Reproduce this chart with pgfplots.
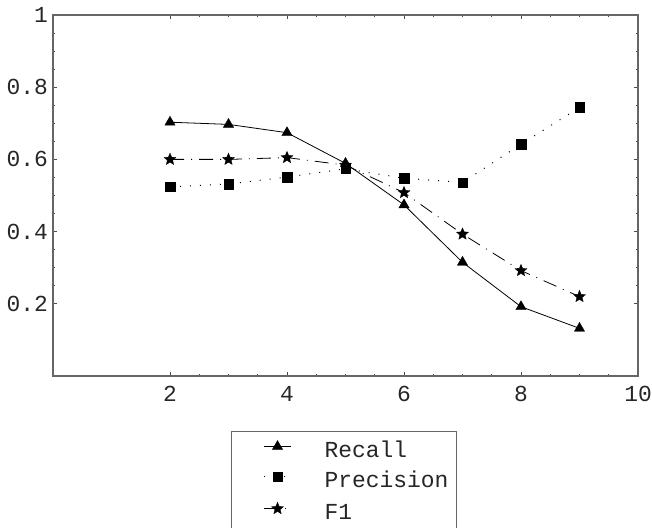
\documentclass[border=0pt]{standalone}
\usepackage{fontspec}
\setmainfont{Liberation Mono}
\usepackage{pgfplots}
\pgfplotsset{compat=1.18}
\pgfdeclareplotmark{fstar}{%
  \pgfpathmoveto{\pgfpointpolar{90}{\pgfplotmarksize}}%
  \pgfpathlineto{\pgfpointpolar{126}{0.45\pgfplotmarksize}}%
  \pgfpathlineto{\pgfpointpolar{162}{\pgfplotmarksize}}%
  \pgfpathlineto{\pgfpointpolar{198}{0.45\pgfplotmarksize}}%
  \pgfpathlineto{\pgfpointpolar{234}{\pgfplotmarksize}}%
  \pgfpathlineto{\pgfpointpolar{270}{0.45\pgfplotmarksize}}%
  \pgfpathlineto{\pgfpointpolar{306}{\pgfplotmarksize}}%
  \pgfpathlineto{\pgfpointpolar{342}{0.45\pgfplotmarksize}}%
  \pgfpathlineto{\pgfpointpolar{18}{\pgfplotmarksize}}%
  \pgfpathlineto{\pgfpointpolar{54}{0.45\pgfplotmarksize}}%
  \pgfpathclose\pgfusepathqfillstroke}
\begin{document}
\begin{tikzpicture}
\useasboundingbox (-53bp,-152bp) rectangle (599bp,376bp);
\begin{axis}[
  scale only axis, width=585bp, height=361bp,
  at={(0,0)}, anchor=south west,
  xmin=0, xmax=10, ymin=0, ymax=1,
  xtick={2,4,6,8,10}, ytick={0.2,0.4,0.6,0.8,1},
  minor x tick num=3, minor y tick num=3,
  tick align=inside, clip=false,
  axis line style={draw=black!60, line width=1.2bp},
  major tick style={draw=black!70, line width=1bp},
  minor tick style={draw=black!70, line width=0.8bp},
  major tick length=4bp, minor tick length=2.5bp,
  tick label style={font=\fontsize{23}{27}\selectfont, text=black!85},
  /pgf/number format/assume math mode=true,
  xticklabel style={inner sep=0pt, yshift=-10bp},
  yticklabel style={inner sep=0pt, xshift=-5bp},
  legend cell align=left,
  legend style={at={(0.3043,-0.1524)}, anchor=north west,
    draw=black!60, line width=1bp, inner xsep=8bp, inner ysep=9bp,
    row sep=12bp, font=\fontsize{23}{27}\selectfont, text=black!85,
    nodes={inner sep=0pt, text height=12bp, text depth=3bp},
    /tikz/every odd column/.append style={column sep=33bp}},
  legend image code/.code={%
    \path (0bp,0bp);
    \draw[mark repeat=2,mark phase=2,#1] plot coordinates {(24bp,6bp) (37.5bp,6bp) (51bp,6bp)};},
]
\addplot[black, line width=0.8bp, mark=triangle*, mark size=6bp, mark options={solid, line width=0.3bp}]
  coordinates {(2,0.703) (3,0.697) (4,0.674) (5,0.589) (6,0.474) (7,0.315) (8,0.192) (9,0.132)};
\addlegendentry{Recall}
\addplot[black, line width=1bp, dash pattern=on 1bp off 9bp, mark=square*, mark size=4.8bp, mark options={solid, line width=0.3bp}]
  coordinates {(2,0.524) (3,0.532) (4,0.551) (5,0.574) (6,0.548) (7,0.536) (8,0.642) (9,0.744)};
\addlegendentry{Precision}
\addplot[black, line width=0.8bp, dash pattern=on 14bp off 7bp on 1bp off 7bp, mark=fstar, mark size=6.3bp, mark options={solid, line width=0.3bp}]
  coordinates {(2,0.600) (3,0.600) (4,0.605) (5,0.584) (6,0.508) (7,0.393) (8,0.292) (9,0.220)};
\addlegendentry{F1}
\end{axis}
\end{tikzpicture}
\end{document}
